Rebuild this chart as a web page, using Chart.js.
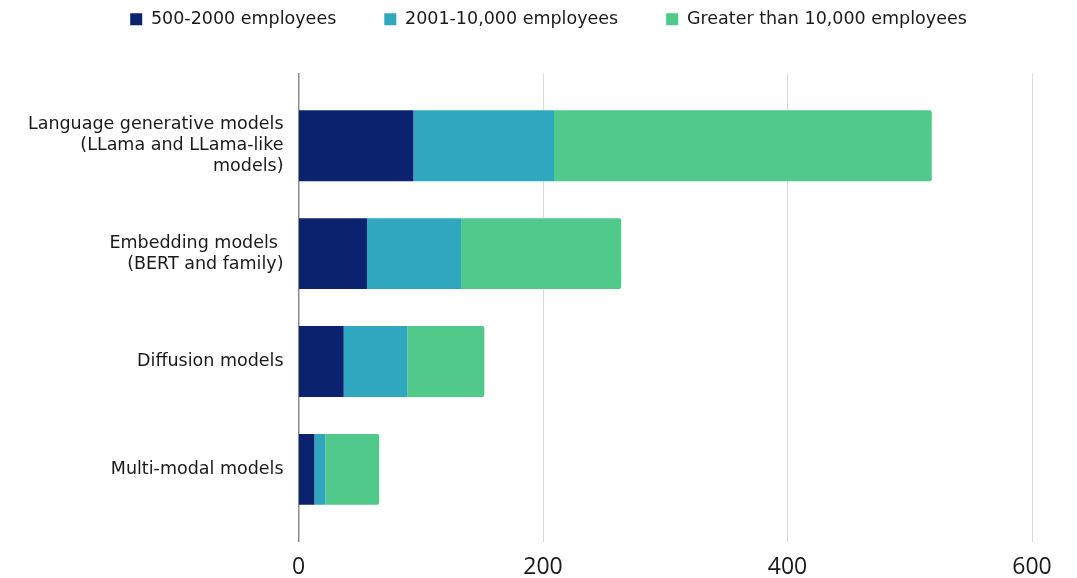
<!DOCTYPE html>
<html>
<head>
<meta charset="utf-8">
<script src="https://cdn.jsdelivr.net/npm/chart.js@4"></script>
<style>
  body { margin: 0; background: #fff; }
</style>
</head>
<body>
<canvas id="myChart" width="1077" height="578"></canvas>
<script>
// categorias (de arriba hacia abajo)
const categorias = [
    ['Language generative models', '(LLama and LLama-like', 'models)'],
    ['Embedding models ', '(BERT and family)'],
    'Diffusion models',
    'Multi-modal models'
];
// valores por tamaño de empresa
const empresas500 = [94, 56, 37, 13];
const empresas2001 = [115, 77, 52, 9];
const empresas10000 = [309, 131, 63, 44];
const etiquetasSeries = ['500-2000 employees', '2001-10,000 employees', 'Greater than 10,000 employees'];
const ticksX = [0, 200, 400, 600];

const colores = ['#0b236e', '#2fa8bf', '#50c98b'];

// cada valor va con su posición de categoria
const puntos = (valores) => valores.map((v, i) => ({x: v, y: i}));

// espacio extra bajo la leyenda
const margenLeyenda = {
    id: 'margenLeyenda',
    beforeInit(chart) {
        const fitOriginal = chart.legend.fit;
        chart.legend.fit = function fit() {
            fitOriginal.bind(chart.legend)();
            this.height += 35.5;
        };
    }
};

const ctx = document.getElementById('myChart');
const myChart = new Chart(ctx, {
    type: 'bar',
    data: {
        datasets: [{
            label: etiquetasSeries[0],
            data: puntos(empresas500),
            backgroundColor: colores[0]
        }, {
            label: etiquetasSeries[1],
            data: puntos(empresas2001),
            backgroundColor: colores[1]
        }, {
            label: etiquetasSeries[2],
            data: puntos(empresas10000),
            backgroundColor: colores[2],
            borderRadius: 2
        }]
    },
    options: {
        indexAxis: 'y',
        responsive: false,
        animation: false,
        devicePixelRatio: 1,
        categoryPercentage: 1,
        barPercentage: 0.657,
        layout: {
            padding: {top: -37.5, left: 20, right: 0, bottom: 0}
        },
        plugins: {
            tooltip: {enabled: false},
            legend: {
                position: 'top',
                labels: {
                    boxWidth: 12,
                    boxHeight: 12,
                    padding: 48,
                    color: '#1a1a1a',
                    font: {family: 'DejaVu Sans', size: 17.5}
                }
            }
        },
        scales: {
            x: {
                stacked: true,
                min: 0,
                max: 600,
                border: {display: false},
                grid: {
                    drawTicks: false,
                    color: (c) => c.tick && c.tick.value === 0 ? '#8c8c8c' : '#d9d9d9'
                },
                afterBuildTicks: (scale) => {
                    scale.ticks = ticksX.map(v => ({value: v}));
                },
                afterFit: (scale) => {
                    scale.height = 36.3;
                    scale.paddingRight = 45;
                },
                ticks: {
                    padding: 11.5,
                    color: '#1a1a1a',
                    font: {family: 'Open Sans', size: 23}
                }
            },
            y: {
                type: 'linear',
                stacked: true,
                reverse: true,
                offset: false,
                bounds: 'data',
                min: -0.67,
                max: 3.67,
                grid: {display: false, drawTicks: false},
                border: {display: true, color: '#8c8c8c', width: 1.5},
                afterBuildTicks: (scale) => {
                    scale.ticks = categorias.map((_, i) => ({value: i}));
                },
                afterFit: (scale) => {
                    scale.width = 278.5;
                    scale.paddingTop = 0;
                    scale.paddingBottom = 0;
                },
                ticks: {
                    padding: 15,
                    color: '#1a1a1a',
                    font: {family: 'DejaVu Sans', size: 17.5},
                    callback: (valor) => categorias[valor]
                }
            }
        }
    },
    plugins: [margenLeyenda]
});
</script>
</body>
</html>
